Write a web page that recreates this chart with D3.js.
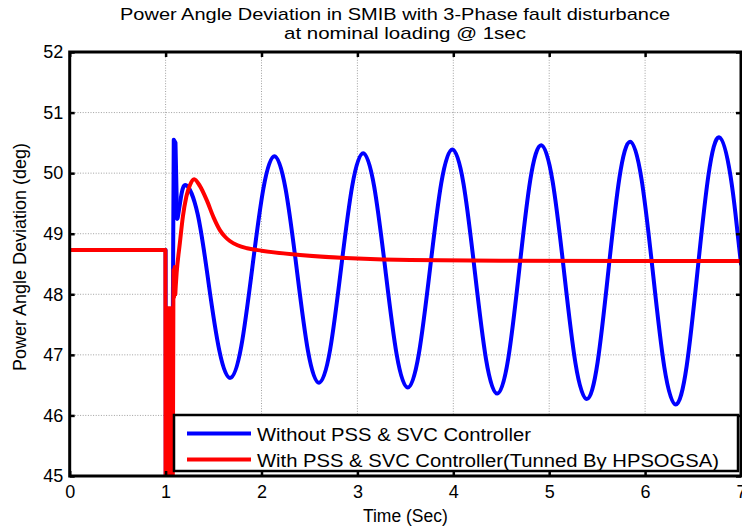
<!DOCTYPE html>
<html><head><meta charset="utf-8">
<script src="https://cdn.jsdelivr.net/npm/d3@7"></script>
<style>
body{margin:0;background:#fff;}
svg{display:block;}
text{font-family:"Liberation Sans",Arial,Helvetica,sans-serif;fill:#000;}
</style>
</head><body>
<svg id="c" width="742" height="527"></svg>
<script>
// ---------- data ----------
const xTicks = [0, 1, 2, 3, 4, 5, 6, 7];
const yTicks = [45, 46, 47, 48, 49, 50, 51, 52];
const titleLines = ["Power Angle Deviation in SMIB with 3-Phase fault disturbance", "at nominal loading @ 1sec"];
const xLabel = "Time (Sec)";
const yLabel = "Power Angle Deviation (deg)";
const seriesNames = ["Without PSS & SVC Controller", "With PSS & SVC Controller(Tunned By HPSOGSA)"];

// Without PSS & SVC (blue)
const blueTime = [0, 1.0, 1.003, 1.06, 1.068, 1.085, 1.103, 1.12,
  1.13, 1.16, 1.215, 1.3335, 1.447, 1.5605, 1.674,
  1.789, 1.905, 2.020, 2.135,
  2.251, 2.368, 2.484, 2.60,
  2.715, 2.83, 2.945, 3.06,
  3.176, 3.293, 3.409, 3.525,
  3.641, 3.758, 3.874, 3.99,
  4.107, 4.224, 4.341, 4.458,
  4.573, 4.688, 4.802, 4.917,
  5.036, 5.155, 5.273, 5.392,
  5.505, 5.618, 5.731, 5.844,
  5.963, 6.082, 6.200, 6.319,
  6.433, 6.547, 6.660, 6.774,
  6.89, 6.965, 7.0];
const blueValue = [48.73, 48.73, 43, 43, 45.5, 50.55, 50.5, 49.25,
  49.3, 49.6, 49.80, 49.33, 48.20, 47.07, 46.62,
  47.14, 48.45, 49.75, 50.28,
  49.74, 48.41, 47.07, 46.54,
  47.08, 48.43, 49.78, 50.33,
  49.77, 48.39, 47.01, 46.46,
  47.02, 48.43, 49.83, 50.39,
  49.82, 48.38, 46.93, 46.36,
  46.94, 48.41, 49.88, 50.46,
  49.86, 48.37, 46.87, 46.27,
  46.88, 48.40, 49.91, 50.52,
  49.90, 48.35, 46.80, 46.18,
  46.81, 48.39, 49.96, 50.59,
  49.96, 49.0, 48.5];

// With PSS & SVC (red)
const redTime = [0, 0.998,
  1.000, 1.004, 1.008, 1.012, 1.016, 1.020, 1.024, 1.028, 1.032, 1.036, 1.040, 1.044, 1.048, 1.052, 1.055,
  1.062, 1.068, 1.076, 1.082, 1.088, 1.095, 1.10,
  1.115, 1.149, 1.18, 1.216, 1.253, 1.298, 1.357, 1.43, 1.50, 1.566, 1.62, 1.67,
  1.75, 1.85, 2.0, 2.4, 3.0, 3.55, 4.5, 7.0];
const redValue = [48.73, 48.73,
  44, 47.77, 44, 47.77, 44, 47.77, 44, 47.77, 44, 47.77, 44, 47.77, 44, 47.77, 44,
  45.2, 44.5, 45.1, 48.4, 47.95, 48.45, 48.0,
  48.35, 48.85, 49.28, 49.61, 49.80, 49.90, 49.79, 49.55, 49.27, 49.06, 48.95, 48.88,
  48.81, 48.76, 48.72, 48.65, 48.59, 48.565, 48.555, 48.55];

// ---------- layout ----------
const svg = d3.select("#c");
const L = 69.7, R = 741, T = 52, B = 476;
const x = d3.scaleLinear().domain([0, 7]).range([L, R]);
const y = d3.scaleLinear().domain([45, 52]).range([B, T]);

svg.append("rect").attr("width", 742).attr("height", 527).attr("fill", "#fff");

// grid
const grid = svg.append("g").attr("stroke", "#a0a0a0").attr("stroke-width", 1).attr("stroke-dasharray", "1,1.6");
grid.selectAll(".gx").data(xTicks.slice(1, -1)).join("line")
  .attr("x1", d => x(d)).attr("x2", d => x(d)).attr("y1", T).attr("y2", B);
grid.selectAll(".gy").data(yTicks.slice(1, -1)).join("line")
  .attr("x1", L).attr("x2", R).attr("y1", d => y(d)).attr("y2", d => y(d));

// clip
svg.append("clipPath").attr("id", "clip").append("rect")
  .attr("x", L).attr("y", T).attr("width", R - L).attr("height", B - T);

const plot = svg.append("g").attr("clip-path", "url(#clip)");

function drawSeries(times, values, split, color, smoothCurve) {
  const pts = times.map((t, i) => ({ t, v: values[i] }));
  const lin = d3.line().x(d => x(d.t)).y(d => y(d.v)).curve(d3.curveLinear);
  const smooth = d3.line().x(d => x(d.t)).y(d => y(d.v)).curve(smoothCurve);
  const k = times.indexOf(split);
  [[pts.slice(0, k + 1), lin], [pts.slice(k), smooth]].forEach(([seg, gen]) => {
    plot.append("path").attr("d", gen(seg)).attr("fill", "none")
      .attr("stroke", color).attr("stroke-width", 4)
      .attr("stroke-linejoin", "round").attr("stroke-linecap", "round");
  });
}
drawSeries(blueTime, blueValue, 1.12, "#0000ff", d3.curveNatural);
drawSeries(redTime, redValue, 1.10, "#ff0000", d3.curveMonotoneX);

// axes (MATLAB style inward ticks, box)
function styleAxis(g) {
  g.select(".domain").remove();
  g.selectAll(".tick line").attr("stroke", "#000").attr("stroke-width", 2.5);
  g.selectAll(".tick text").attr("font-size", 18).attr("fill", "#000")
    .attr("font-family", '"Liberation Sans",Arial,sans-serif');
}
svg.append("g").attr("transform", `translate(0,${B})`)
  .call(d3.axisBottom(x).tickValues(xTicks).tickFormat(d3.format("d")).tickSize(-5).tickPadding(9))
  .call(styleAxis);
svg.append("g").attr("transform", `translate(0,${T})`)
  .call(d3.axisTop(x).tickValues(xTicks).tickFormat("").tickSize(-5))
  .call(styleAxis);
svg.append("g").attr("transform", `translate(${L},0)`)
  .call(d3.axisLeft(y).tickValues(yTicks).tickFormat(d3.format("d")).tickSize(-5).tickPadding(6.5))
  .call(styleAxis);
svg.append("g").attr("transform", `translate(${R},0)`)
  .call(d3.axisRight(y).tickValues(yTicks).tickFormat("").tickSize(-5))
  .call(styleAxis);

svg.append("rect").attr("x", L).attr("y", T).attr("width", R - L).attr("height", B - T)
  .attr("fill", "none").attr("stroke", "#000").attr("stroke-width", 3);

// legend
const lg = svg.append("g");
lg.append("rect").attr("x", 174).attr("y", 415).attr("width", 564).attr("height", 56)
  .attr("fill", "#fff").attr("stroke", "#000").attr("stroke-width", 2.5);
const legendColors = ["#0000ff", "#ff0000"];
const legendY = [433.5, 459.5];
const legendLen = [274, 462];
seriesNames.forEach((name, i) => {
  lg.append("line").attr("x1", 187).attr("x2", 251).attr("y1", legendY[i]).attr("y2", legendY[i])
    .attr("stroke", legendColors[i]).attr("stroke-width", 4);
  lg.append("text").attr("x", 257).attr("y", legendY[i] + 7).attr("font-size", 18)
    .attr("textLength", legendLen[i]).attr("lengthAdjust", "spacingAndGlyphs").text(name);
});

// title
svg.append("text").attr("x", 120).attr("y", 20).attr("font-size", 17)
  .attr("textLength", 550).attr("lengthAdjust", "spacingAndGlyphs").text(titleLines[0]);
svg.append("text").attr("x", 284).attr("y", 39.3).attr("font-size", 17)
  .attr("textLength", 242).attr("lengthAdjust", "spacingAndGlyphs").text(titleLines[1]);

// axis labels
svg.append("text").attr("x", (L + R) / 2).attr("y", 522).attr("text-anchor", "middle")
  .attr("font-size", 17.5).text(xLabel);
svg.append("text").attr("transform", "translate(26,257) rotate(-90)").attr("text-anchor", "middle")
  .attr("font-size", 18).text(yLabel);
</script>
</body></html>
